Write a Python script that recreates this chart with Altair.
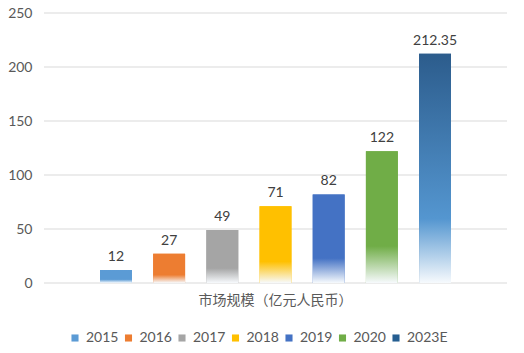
import altair as alt
import pandas as pd

years = ["2015", "2016", "2017", "2018", "2019", "2020", "2023E"]
values = [12, 27, 49, 71, 82, 122, 212.35]
labels = ["12", "27", "49", "71", "82", "122", "212.35"]
top_colors = ["#5B9BD5", "#ED7D31", "#A5A5A5", "#FFC000", "#4472C4", "#70AD47", "#2C5C8C"]
mid_colors = ["#5B9BD5", "#ED7D31", "#A5A5A5", "#FFC000", "#4472C4", "#70AD47", "#5496D0"]
legend_colors = ["#5B9BD5", "#ED7D31", "#A5A5A5", "#FFC000", "#4472C4", "#70AD47", "#255E91"]
y_ticks = [0, 50, 100, 150, 200, 250]

df = pd.DataFrame({"year": years, "value": values, "label": labels})
grid_df = pd.DataFrame({"tick": y_ticks})

FONT = "Lato"
CJK = "Noto Sans CJK SC"

xscale = alt.Scale(domain=years, paddingInner=0.4, paddingOuter=0, range=[56, 407])
yscale = alt.Scale(domain=[0, 250])

x_axis = alt.Axis(title="市场规模（亿元人民币）", labels=False, ticks=False,
                  domain=False, grid=False, titleX=231,
                  titleFont=CJK, titleFontSize=14, titleFontWeight="normal",
                  titleColor="#595959", titlePadding=10)
y_axis = alt.Axis(values=y_ticks, title=None, domain=False, ticks=False, grid=False,
                  labelColor="#595959", labelFont=FONT, labelFontSize=14, labelPadding=12)

x_enc = alt.X("year:N", sort=years, scale=xscale, axis=x_axis)
y_enc = alt.Y("value:Q", scale=yscale, axis=y_axis)

grid = alt.Chart(grid_df).mark_rule(color="#D9D9D9", strokeWidth=1).encode(
    y=alt.Y("tick:Q", scale=yscale, axis=y_axis),
    x=alt.value(0), x2=alt.value(463),
)

base = alt.Chart(df).mark_bar().encode(
    x=x_enc, y=y_enc,
    color=alt.Color("year:N", sort=years,
                    scale=alt.Scale(domain=years, range=legend_colors),
                    legend=alt.Legend(title=None, orient="none", direction="horizontal",
                                      legendX=24, legendY=318, symbolType="square",
                                      symbolSize=50, symbolStrokeWidth=0,
                                      labelFont=FONT, labelFontSize=14,
                                      labelColor="#595959", columnPadding=2.5,
                                      labelOffset=4)),
)

layers = [grid, base]
for yr, tc, mc in zip(years, top_colors, mid_colors):
    grad = alt.Gradient(
        gradient="linear", x1=0, y1=0, x2=0, y2=1,
        stops=[
            alt.GradientStop(offset=0, color=tc),
            alt.GradientStop(offset=0.72, color=mc),
            alt.GradientStop(offset=1, color="#F7FAFD"),
        ],
    )
    layers.append(
        alt.Chart(df).transform_filter(alt.datum.year == yr)
        .mark_bar(fill=grad)
        .encode(x=x_enc, y=y_enc)
    )

text = alt.Chart(df).mark_text(baseline="bottom", dy=-6, font=FONT, fontSize=14,
                               color="#404040").encode(
    x=x_enc, y=y_enc, text="label:N")
layers.append(text)

chart = alt.layer(*layers).properties(
    width=463, height=270,
    autosize=alt.AutoSizeParams(type="none"),
    padding={"left": 44, "top": 13, "right": 17, "bottom": 70},
    background="white",
).configure_view(stroke=None)

chart.save("out.html", embed_options={"renderer": "svg", "actions": False})
